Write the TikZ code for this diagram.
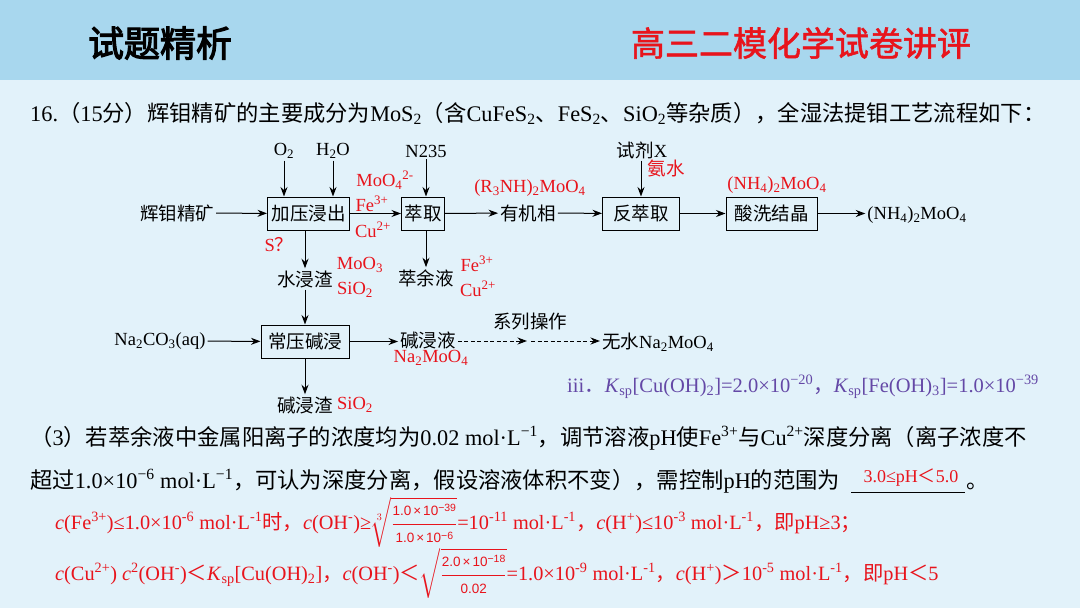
\RequirePackage{fix-cm}
\documentclass[tikz,border=0pt]{standalone}
\usepackage{amsmath}
\usepackage{fontspec}
\setmainfont{Liberation Serif}
\newfontfamily\cjk{Noto Sans CJK SC}
\newfontfamily\cjkb{Noto Sans CJK SC}[FakeBold=3]
\newfontfamily\cjkr{Noto Sans CJK SC}[FakeBold=1.5]
\newfontfamily\fracf{Liberation Sans}
\usetikzlibrary{arrows.meta}
\XeTeXinterchartokenstate=1
\newXeTeXintercharclass\CJKcls
\makeatletter
\def\setcjkrange#1#2{\count@=#1\relax\loop\XeTeXcharclass\count@=\CJKcls\relax\ifnum\count@<#2\relax\advance\count@ by 1\relax\repeat}
\setcjkrange{"3000}{"303F}
\setcjkrange{"4E00}{"9FFF}
\setcjkrange{"FF00}{"FFEF}
\makeatother
\def\cjkswitch{\cjk}
\def\latswitch{\rmfamily}
\XeTeXinterchartoks 0 \CJKcls={\cjkswitch}
\XeTeXinterchartoks 4095 \CJKcls={\cjkswitch}
\XeTeXinterchartoks \CJKcls 0={\latswitch}
\XeTeXinterchartoks \CJKcls 4095={\latswitch}
\newcommand\fs[1]{\fontsize{#1}{#1}\selectfont}
\newcommand\fr[1]{\text{\fracf\fontsize{13.5}{13.5}\selectfont #1}}
\newcommand\fsup[1]{\raisebox{0.55ex}{\fontsize{10.5}{10.5}\selectfont #1}}
\newcommand\tms{\kern2pt×\kern2pt}
\definecolor{hdr}{HTML}{A8D7EE}
\definecolor{bgc}{HTML}{E2F2FA}
\definecolor{rd}{HTML}{E8141C}
\definecolor{pp}{HTML}{6448A6}
\begin{document}
\begin{tikzpicture}[x=1pt,y=-1pt,
  box/.style={draw, line width=1pt, minimum height=33pt, inner sep=0pt, font=\fs{18.5}},
  txt/.style={inner sep=2pt, font=\fs{18.5}},
  rtxt/.style={inner sep=2pt, font=\fs{18.5}, text=rd},
  arr/.style={-{Stealth[length=9.5pt,width=7pt]}, line width=1pt},
  dsh/.style={dash pattern=on 4pt off 2.5pt},
  para/.style={anchor=base west, inner sep=0pt, font=\fs{22.3}},
  rline/.style={anchor=base west, inner sep=0pt, font=\fs{20.3}, text=rd}]
\useasboundingbox (0,0) rectangle (1080,608);
\fill[bgc] (0,0) rectangle (1080,608);
\fill[hdr] (0,0) rectangle (1080,80);
\node[inner sep=0pt, font=\fs{36}] (t1) at (160,43) {\def\cjkswitch{\cjkb}试题精析};
\node[inner sep=0pt, font=\fs{34}, text=rd] (t2) at (801,43) {\def\cjkswitch{\cjkr}高三二模化学试卷讲评};

\node[para] (q) at (30,121) {16.（15分）辉钼精矿的主要成分为MoS\textsubscript{2}（含CuFeS\textsubscript{2}、FeS\textsubscript{2}、SiO\textsubscript{2}等杂质），全湿法提钼工艺流程如下：};

% boxes
\node[box,minimum width=82pt] (jy) at (308.5,213.5) {加压浸出};
\node[box,minimum width=43pt] (cq) at (423,213.5) {萃取};
\node[box,minimum width=77pt] (fcq) at (641,213.5) {反萃取};
\node[box,minimum width=91pt] (sx) at (771.5,213.5) {酸洗结晶};
\node[box,minimum width=88pt] (cy) at (305,341.5) {常压碱浸};

\node[txt] (ore) at (177,213) {辉钼精矿};
\node[txt] (o2) at (284,151) {O\textsubscript{2}};
\node[txt] (h2o) at (333,151) {H\textsubscript{2}O};
\node[txt] (n235) at (426,151) {N235};
\node[txt] (sj) at (642,150) {试剂X};
\node[rtxt] (as) at (666,168) {氨水};
\node[txt] (yjx) at (528,213) {有机相};
\node[rtxt] (r3) at (530,188) {(R\textsubscript{3}NH)\textsubscript{2}MoO\textsubscript{4}};
\node[rtxt] (nh4r) at (777,185) {(NH\textsubscript{4})\textsubscript{2}MoO\textsubscript{4}};
\node[txt] (prod) at (917,215) {(NH\textsubscript{4})\textsubscript{2}MoO\textsubscript{4}};
\node[rtxt] (moo4) at (385,180) {MoO\textsubscript{4}\textsuperscript{2-}};
\node[rtxt] (fe1) at (372,204) {Fe\textsuperscript{3+}};
\node[rtxt] (cu1) at (373,230) {Cu\textsuperscript{2+}};
\node[rtxt] (sq) at (279,245) {S？};

\node[txt] (sjz) at (305,279) {水浸渣};
\node[rtxt] (moo3) at (360,265) {MoO\textsubscript{3}};
\node[rtxt] (sio1) at (355,290) {SiO\textsubscript{2}};
\node[txt] (cyy) at (426,278) {萃余液};
\node[rtxt] (fe2) at (477,264) {Fe\textsuperscript{3+}};
\node[rtxt] (cu2) at (478,289) {Cu\textsuperscript{2+}};
\node[txt] (naco) at (160,341) {Na\textsubscript{2}CO\textsubscript{3}(aq)};
\node[txt] (jjy) at (428,340) {碱浸液};
\node[rtxt] (na2r) at (431,358) {Na\textsubscript{2}MoO\textsubscript{4}};
\node[txt] (xl) at (530,322) {系列操作};
\coordinate (mid) at (527,341);
\coordinate (mid2) at (531,341);
\node[txt] (wsn) at (658,342) {无水Na\textsubscript{2}MoO\textsubscript{4}};
\node[txt] (jjz) at (305,405) {碱浸渣};
\node[rtxt] (sio2) at (355,405) {SiO\textsubscript{2}};

% arrows
\draw[arr] (ore) -- (jy);
\draw[arr] (jy) -- (cq);
\draw[arr] (cq) -- (yjx);
\draw[arr] (yjx) -- (fcq);
\draw[arr] (fcq) -- (sx);
\draw[arr] (sx.east) -- (sx.east -| prod.west);
\draw[arr] (o2.south) -- (o2.south |- jy.north);
\draw[arr] (h2o.south) -- (h2o.south |- jy.north);
\draw[arr] (n235.south) -- (n235.south |- cq.north);
\draw[arr] (sj.south -| fcq.north) -- (fcq.north);
\draw[arr] (sjz |- jy.south) -- (sjz.north);
\draw[arr] (cyy |- cq.south) -- (cyy.north);
\draw[arr] (sjz.south) -- (cy.north);
\draw[arr] (naco) -- (cy);
\draw[arr] (cy.east) -- (cy.east -| jjy.west);
\draw[arr] (cy.south) -- (jjz.north);
\draw[arr,dsh] (jjy.east |- mid) -- (mid);
\draw[arr,dsh] (mid2) -- (mid2 -| wsn.west);

\node[anchor=base west, inner sep=0pt, font=\fs{20.5}, text=pp] (iii) at (567,392) {iii．\textit{K}\textsubscript{sp}[Cu(OH)\textsubscript{2}]=2.0×10\textsuperscript{−20}，\textit{K}\textsubscript{sp}[Fe(OH)\textsubscript{3}]=1.0×10\textsuperscript{−39}};

\node[para] (p1) at (30,445) {（3）若萃余液中金属阳离子的浓度均为0.02 mol·L\textsuperscript{−1}，调节溶液pH使Fe\textsuperscript{3+}与Cu\textsuperscript{2+}深度分离（离子浓度不};
\node[para] (p2) at (30,488) {超过1.0×10\textsuperscript{−6} mol·L\textsuperscript{−1}，可认为深度分离，假设溶液体积不变），需控制pH的范围为};
\coordinate (ul1) at (851,492);
\coordinate (ul2) at (965,492);
\draw[line width=0.7pt] (ul1) -- (ul2);
\node[inner sep=0pt, font=\fs{18}, text=rd] (ans) at (911,478) {3.0≤pH＜5.0};
\node[para] (dot) at (966,488) {。};

\node[rline] (r1) at (55,529) {\textit{c}(Fe\textsuperscript{3+})≤1.0×10\textsuperscript{-6} mol·L\textsuperscript{-1}时，\textit{c}(OH\textsuperscript{-})≥$\sqrt[3]{\dfrac{\fr{1.0\tms 10\fsup{−39}}}{\fr{1.0\tms 10\fsup{−6}}}}$=10\textsuperscript{-11} mol·L\textsuperscript{-1}，\textit{c}(H\textsuperscript{+})≤10\textsuperscript{-3} mol·L\textsuperscript{-1}，即pH≥3；};
\node[rline] (r2) at (55,580) {\textit{c}(Cu\textsuperscript{2+}) \textit{c}\textsuperscript{2}(OH\textsuperscript{-})＜\textit{K}\textsubscript{sp}[Cu(OH)\textsubscript{2}]，\textit{c}(OH\textsuperscript{-})＜$\sqrt{\dfrac{\fr{2.0\tms 10\fsup{−18}}}{\fr{0.02}}}$=1.0×10\textsuperscript{-9} mol·L\textsuperscript{-1}，\textit{c}(H\textsuperscript{+})＞10\textsuperscript{-5} mol·L\textsuperscript{-1}，即pH＜5};
\end{tikzpicture}
\end{document}
